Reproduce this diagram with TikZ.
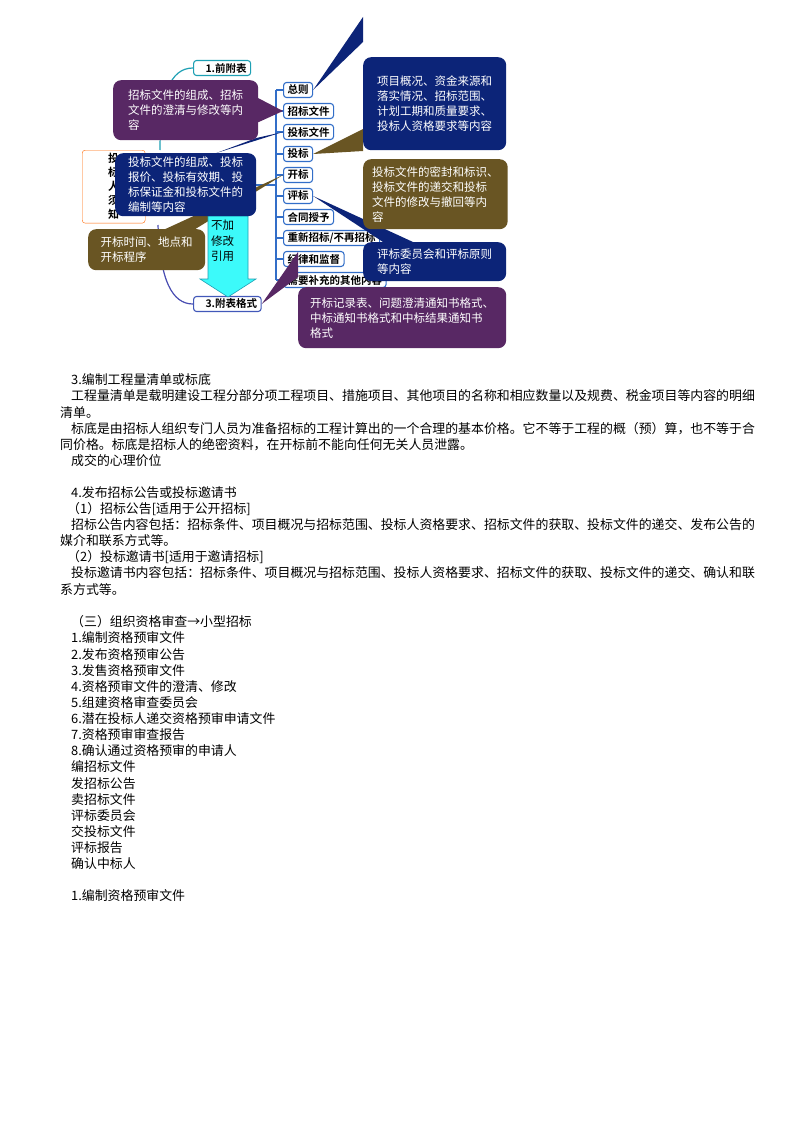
\documentclass[tikz,border=0pt]{standalone}
\usepackage{fontspec}
\setmainfont{Noto Sans CJK SC}
\newfontfamily\cjkb{Noto Sans CJK SC Bold}
\pgfdeclarelayer{back}
\pgfdeclarelayer{mid}
\pgfsetlayers{back,mid,main}
\definecolor{cpurple}{RGB}{88,40,100}
\definecolor{cnavy}{RGB}{12,36,120}
\definecolor{colive}{RGB}{105,85,35}
\definecolor{cblue}{RGB}{50,110,200}
\definecolor{cteal}{RGB}{30,160,180}
\definecolor{ccyan}{RGB}{60,250,250}
\tikzset{
 colbox/.style={draw=cblue,line width=1.1pt,rounded corners=3pt,fill=white,anchor=west,
   font=\cjkb\fontsize{10.5}{12}\selectfont,inner xsep=4pt,inner ysep=1pt,minimum height=15pt},
 headbox/.style={colbox,draw=cteal},
 callout/.style={fill=#1,rounded corners=8pt,anchor=north west,text=white,align=left,
   font=\fontsize{11.5}{15}\selectfont,inner xsep=9pt,inner ysep=5pt},
 body/.style={anchor=west,font=\fontsize{12.9}{15}\selectfont,inner sep=0pt}
}
\begin{document}
\begin{tikzpicture}[x=1pt,y=-1pt]
\useasboundingbox (0,0) rectangle (800,1132);
\begin{pgfonlayer}{back}
\fill[white] (0,0) rectangle (800,1132);
\node[headbox] (qf) at (193,68) {\hspace{8pt}1.前附表\hspace{8pt}};
\node[headbox,draw=cblue!80!violet] (fb) at (193,304) {\hspace{8pt}3.附表格式\hspace{6pt}};
\node[colbox] (b1) at (283,90) {总则};
\node[colbox] (b2) at (283,111) {招标文件};
\node[colbox] (b3) at (283,132) {投标文件};
\node[colbox] (b4) at (283,154) {投标};
\node[colbox] (b5) at (283,175) {开标};
\node[colbox] (b6) at (283,196) {评标};
\node[colbox] (b7) at (283,217) {合同授予};
\node[colbox] (b8) at (283,238) {重新招标/不再招标};
\node[colbox] (b9) at (283,259) {纪律和监督};
\node[colbox] (b10) at (283,280) {需要补充的其他内容};
\coordinate (vt) at (276,90);
\coordinate (vb) at (276,280);
\draw[cblue,line width=1.1pt] (vt) -- (vb);
\foreach \i in {1,...,10}{\draw[cblue,line width=1.1pt] (b\i.west) -- (b\i.west -| vt);}
\coordinate (br) at (252,185);
\draw[cblue,line width=1.1pt] (br) -- (br -| vt);
\coordinate (c1) at (160,150);
\coordinate (c2) at (158,225);
\draw[cteal,line width=1.2pt] (qf.west) .. controls (170,68) and (160,95) .. (c1);
\draw[cblue!70!violet,line width=1.2pt] (c2) .. controls (160,280) and (172,304) .. (fb.west);
\node[draw=orange!80!red,fill=white,rounded corners=3pt,minimum width=63pt,minimum height=72pt,
  anchor=north west,align=center,font=\cjkb\fontsize{11}{14}\selectfont] (ob) at (82,150) {投\\标\\人\\须\\知};
\end{pgfonlayer}
% cyan arrow
\fill[ccyan,draw=cteal,line width=0.6pt] (208,216) -- (248,216) -- (248,279) -- (256,279) -- (228,297) -- (200,279) -- (208,279) -- cycle;
\node[anchor=north west,align=left,font=\fontsize{11.5}{15.5}\selectfont,inner sep=0pt] (ar) at (211,220) {不加\\修改\\引用};
% callouts
\node[callout=cpurple,minimum width=145pt,minimum height=60pt] (p1) at (113,80) {招标文件的组成、招标\\文件的澄清与修改等内\\容};
\node[callout=cnavy,minimum width=143pt,minimum height=93pt,inner xsep=12pt,inner ysep=10pt] (n1) at (363,57) {项目概况、资金来源和\\落实情况、招标范围、\\计划工期和质量要求、\\投标人资格要求等内容};
\node[callout=cnavy,minimum width=141pt,minimum height=63pt,inner ysep=2pt] (n2) at (115,153) {投标文件的组成、投标\\报价、投标有效期、投\\标保证金和投标文件的\\编制等内容};
\node[callout=colive,minimum width=117pt,minimum height=41pt,inner ysep=4pt] (o1) at (88,229) {开标时间、地点和\\开标程序};
\node[callout=colive,minimum width=143pt,minimum height=70pt,inner ysep=3pt] (o2) at (363,159) {投标文件的密封和标识、\\投标文件的递交和投标\\文件的修改与撤回等内\\容};
\node[callout=cnavy,minimum width=143pt,minimum height=39pt,inner ysep=3pt] (n3) at (363,242) {评标委员会和评标原则\\等内容};
\node[callout=cpurple,minimum width=208pt,minimum height=61pt,inner ysep=4pt] (p2) at (298,287) {开标记录表、问题澄清通知书格式、\\中标通知书格式和中标结果通知书\\格式};
\begin{pgfonlayer}{mid}
\fill[cpurple] ([xshift=-35pt]p1.north east) -- (b2.west) -- ([yshift=-12pt]p1.east);
\fill[cnavy] ([yshift=15pt]n1.north west) -- (b1.east) -- ([yshift=40pt]n1.north west);
\fill[cnavy] ([xshift=-40pt]n2.north east) -- (b3.west) -- ([yshift=15pt]n2.north east);
\fill[colive] ([xshift=-40pt]o1.north east) -- (b5.west) -- ([xshift=-10pt]o1.north east);
\fill[colive] ([yshift=8pt]o2.north west) -- (b4.east) -- ([yshift=30pt]o2.north west);
\fill[cnavy] ([xshift=20pt]n3.north west) -- (b6.east) -- ([xshift=50pt]n3.north west);
\fill[cpurple] ([yshift=10pt]p2.north west) -- (fb.east) -- ([yshift=35pt]p2.north west);
\end{pgfonlayer}
% body text
\node[body] (t1) at (71,380) {3.编制工程量清单或标底};
\node[body] (t2) at (71,396) {工程量清单是载明建设工程分部分项工程项目、措施项目、其他项目的名称和相应数量以及规费、税金项目等内容的明细};
\node[body] (t3) at (60,413) {清单。};
\node[body] (t4) at (71,429) {标底是由招标人组织专门人员为准备招标的工程计算出的一个合理的基本价格。它不等于工程的概（预）算，也不等于合};
\node[body] (t5) at (60,445) {同价格。标底是招标人的绝密资料，在开标前不能向任何无关人员泄露。};
\node[body] (t6) at (71,461) {成交的心理价位};
\node[body] (t7) at (71,493) {4.发布招标公告或投标邀请书};
\node[body] (t8) at (67,509) {（1）招标公告[适用于公开招标]};
\node[body] (t9) at (71,525) {招标公告内容包括：招标条件、项目概况与招标范围、投标人资格要求、招标文件的获取、投标文件的递交、发布公告的};
\node[body] (t10) at (60,541) {媒介和联系方式等。};
\node[body] (t11) at (67,557) {（2）投标邀请书[适用于邀请招标]};
\node[body] (t12) at (71,573) {投标邀请书内容包括：招标条件、项目概况与招标范围、投标人资格要求、招标文件的获取、投标文件的递交、确认和联};
\node[body] (t13) at (60,590) {系方式等。};
\node[body] (t14) at (71,622) {（三）组织资格审查→小型招标};
\node[body] (t15) at (71,638) {1.编制资格预审文件};
\node[body] (t16) at (71,655) {2.发布资格预审公告};
\node[body] (t17) at (71,671) {3.发售资格预审文件};
\node[body] (t18) at (71,687) {4.资格预审文件的澄清、修改};
\node[body] (t19) at (71,703) {5.组建资格审查委员会};
\node[body] (t20) at (71,719) {6.潜在投标人递交资格预审申请文件};
\node[body] (t21) at (71,735) {7.资格预审审查报告};
\node[body] (t22) at (71,751) {8.确认通过资格预审的申请人};
\node[body] (t23) at (71,767) {编招标文件};
\node[body] (t24) at (71,784) {发招标公告};
\node[body] (t25) at (71,800) {卖招标文件};
\node[body] (t26) at (71,816) {评标委员会};
\node[body] (t27) at (71,832) {交投标文件};
\node[body] (t28) at (71,848) {评标报告};
\node[body] (t29) at (71,864) {确认中标人};
\node[body] (t30) at (71,896) {1.编制资格预审文件};
\end{tikzpicture}
\end{document}
